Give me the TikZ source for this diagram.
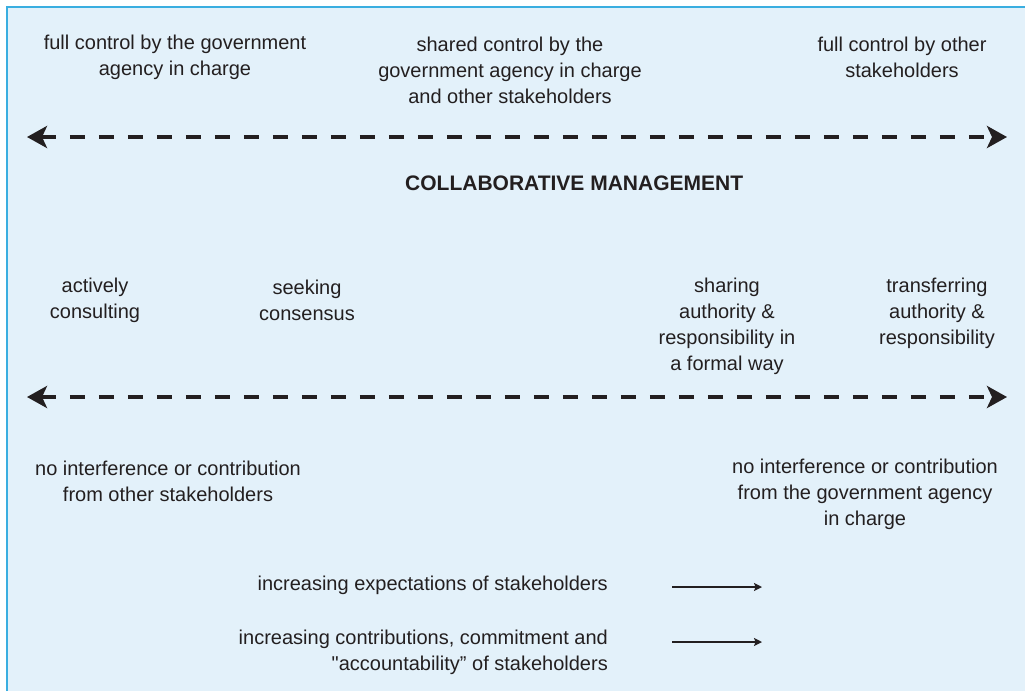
\documentclass[tikz,border=0pt]{standalone}
\usepackage{fontspec}
\setmainfont{Liberation Sans}
\newfontfamily\plainq{Liberation Sans}
\usetikzlibrary{arrows.meta}
\definecolor{panelfill}{HTML}{E3F1FA}
\definecolor{panelline}{HTML}{3AAEE0}
\definecolor{ink}{HTML}{231F20}
\tikzset{
  lbl/.style={text=ink, font=\fontsize{20}{26}\selectfont, align=center, inner sep=0pt},
  title/.style={text=ink, font=\fontsize{21}{26}\selectfont\bfseries, inner sep=0pt},
  scale line/.style={draw=ink, line width=4.5pt, dash pattern=on 15pt off 14pt,
     {Stealth[length=20pt,width=22pt,inset=5pt]}-{Stealth[length=20pt,width=22pt,inset=5pt]}},
  trend/.style={draw=ink, line width=1.4pt, -{Stealth[length=8pt,width=8pt,inset=1.5pt]}}
}
\begin{document}
\begin{tikzpicture}[x=1pt,y=-1pt]
\useasboundingbox (0,0) rectangle (1025,691);
\fill[white] (0,0) rectangle (1025,691);
\fill[panelfill] (7,7) rectangle (1025,691);
\draw[panelline, line width=2pt] (7,691) -- (7,7) -- (1025,7);

% top row
\node[lbl, anchor=center] (t1) at (175,57) {full control by the government\\agency in charge};
\node[lbl, anchor=center] (t2) at (510,70) {shared control by the\\government agency in charge\\and other stakeholders};
\node[lbl, anchor=center] (t3) at (902,57) {full control by other\\stakeholders};

\coordinate (a1l) at (27,137);
\coordinate (a1r) at (1007,137);
\draw[scale line] (a1l) -- (a1r);

\node[title, anchor=west] (cm) at (405,183) {COLLABORATIVE MANAGEMENT};

% middle row
\node[lbl] (m1) at (95,300) {actively\\consulting};
\node[lbl] (m2) at (307,300) {seeking\\consensus};
\node[lbl] (m3) at (727,326) {sharing\\authority \&\\responsibility in\\a formal way};
\node[lbl] (m4) at (937,313) {transferring\\authority \&\\responsibility};

\coordinate (a2l) at (27,397);
\coordinate (a2r) at (1007,397);
\draw[scale line] (a2l) -- (a2r);

% bottom row
\node[lbl] (b1) at (168,481) {no interference or contribution\\from other stakeholders};
\node[lbl] (b2) at (865,494) {no interference or contribution\\from the government agency\\in charge};

\node[lbl, anchor=east] (e1) at (608,585) {increasing expectations of stakeholders};
\node[lbl, anchor=east, align=right] (e2) at (608,652) {increasing contributions, commitment and\\{\plainq "}accountability” of stakeholders};

\coordinate (s1) at (672,587);
\coordinate (f1) at (762,587);
\coordinate (s2) at (672,642);
\coordinate (f2) at (762,642);
\draw[trend] (s1) -- (f1);
\draw[trend] (s2) -- (f2);
\end{tikzpicture}
\end{document}
